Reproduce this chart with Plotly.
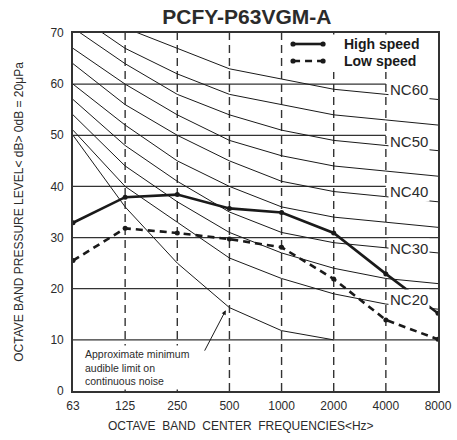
import plotly.graph_objects as go

# ---- data ----
freqs = ["63", "125", "250", "500", "1000", "2000", "4000", "8000"]

high_speed = [32.9, 37.9, 38.4, 35.7, 34.9, 30.9, 22.9, 15.2]
low_speed = [25.5, 31.8, 30.9, 29.7, 28.1, 21.9, 13.9, 10.1]

nc20 = [51, 40, 33, 26, 22, 19, 17, 16]
nc25 = [54, 44, 37, 31, 27, 24, 22, 21]
nc30 = [57, 48, 41, 35, 31, 29, 28, 27]
nc35 = [60, 52, 45, 40, 36, 34, 33, 32]
nc40 = [64, 56, 50, 45, 41, 39, 38, 37]
nc45 = [67, 60, 54, 49, 46, 44, 43, 42]
nc50 = [71, 64, 58, 54, 51, 49, 48, 47]
nc55 = [74, 67, 62, 58, 56, 54, 53, 52]
nc60 = [77, 71, 67, 63, 61, 59, 58, 57]
nc_curves = [nc20, nc25, nc30, nc35, nc40, nc45, nc50, nc55, nc60]

audible_freqs = ["63", "125", "250", "500", "1000", "2000"]
audible_limit = [50, 36, 25, 16.3, 11.8, 10]

nc_label_text = ["NC60", "NC50", "NC40", "NC30", "NC20"]
nc_label_y = [58.9, 48.8, 39.1, 27.9, 17.8]

y_ticks = [0, 10, 20, 30, 40, 50, 60, 70]
grid_full = [10, 20, 30]
grid_short = [40, 50, 60]
vgrid = ["125", "250", "500", "1000", "2000", "4000"]

legend_names = ["High speed", "Low speed"]

INK = "#1a1a1a"
TXT = "#2b2b2b"
FONT = "Arial, Liberation Sans, sans-serif"

W, H = 464, 440
ML, MR, MT, MB = 73, 20, 33, 49
PW, PH = W - ML - MR, H - MT - MB
SX = 0.9836  # observed horizontal scale of the snapshot


def fx(xs):  # snapshot x -> figure x
    return (xs - 1.2) / SX


def px(xs):  # snapshot x -> paper x
    return (fx(xs) - ML) / PW


def py(ys):  # snapshot y -> paper y
    return 1 - (ys - MT) / PH


fig = go.Figure()

for c in nc_curves:
    fig.add_trace(go.Scatter(x=freqs, y=c, mode="lines", showlegend=False,
                             line=dict(color=INK, width=1), hoverinfo="skip"))

fig.add_trace(go.Scatter(x=audible_freqs, y=audible_limit, mode="lines", showlegend=False,
                         line=dict(color=INK, width=1), hoverinfo="skip"))

fig.add_trace(go.Scatter(x=freqs, y=high_speed, mode="lines+markers", name=legend_names[0],
                         showlegend=False,
                         line=dict(color=INK, width=2.6),
                         marker=dict(color=INK, size=5)))
fig.add_trace(go.Scatter(x=freqs, y=low_speed, mode="lines+markers", name=legend_names[1],
                         showlegend=False,
                         line=dict(color=INK, width=2.6, dash="7px,5px"),
                         marker=dict(color=INK, size=5)))

# grid
for g in grid_full:
    fig.add_shape(type="line", xref="x", yref="y", x0=0, x1=7, y0=g, y1=g,
                  line=dict(color="#333", width=1.3), layer="below")
for g in grid_short:
    fig.add_shape(type="line", xref="x", yref="y", x0=0, x1=6, y0=g, y1=g,
                  line=dict(color="#333", width=1.3), layer="below")
for f in vgrid:
    i = freqs.index(f)
    fig.add_shape(type="line", xref="x", yref="y", x0=i, x1=i, y0=0, y1=70,
                  line=dict(color="#333", width=1.4, dash="8px,5px"), layer="below")

# legend (drawn like the reference: line with dots at both ends)
fig.add_shape(type="rect", xref="paper", yref="paper",
              x0=px(290), x1=px(436), y0=py(72), y1=py(34.5),
              fillcolor="white", line=dict(width=0), layer="above")
leg_y = [44, 61]
leg_dash = ["solid", "7px,5px"]
for name, ys, d in zip(legend_names, leg_y, leg_dash):
    fig.add_shape(type="line", xref="paper", yref="paper",
                  x0=px(293), x1=px(323), y0=py(ys), y1=py(ys),
                  line=dict(color=INK, width=2.6, dash=d), layer="above")
    for xe in (293, 323):
        fig.add_shape(type="circle", xref="paper", yref="paper",
                      xsizemode="pixel", ysizemode="pixel",
                      xanchor=px(xe), yanchor=py(ys),
                      x0=-2.6, x1=2.6, y0=-2.6, y1=2.6,
                      fillcolor=INK, line=dict(width=0), layer="above")
    fig.add_annotation(x=px(342), y=py(ys), xref="paper", yref="paper",
                       text=f"<b>{name}</b>", showarrow=False,
                       xanchor="left", yanchor="middle",
                       font=dict(family=FONT, size=14, color=INK))

# NC labels
for t, yv in zip(nc_label_text, nc_label_y):
    fig.add_annotation(x=6, y=yv, xref="x", yref="y", text=t, showarrow=False,
                       xanchor="left", yanchor="middle", xshift=2,
                       font=dict(family=FONT, size=15, color=TXT),
                       bgcolor="white", borderpad=1)

# audible-limit note
fig.add_annotation(x=0.17, y=4.6, xref="x", yref="y",
                   text="Approximate minimum<br>audible limit on<br>continuous noise",
                   showarrow=False, xanchor="left", yanchor="middle", align="left",
                   font=dict(family=FONT, size=10.5, color=TXT),
                   bgcolor="white", borderpad=2)
fig.add_annotation(x=2.93, y=15.8, xref="x", yref="y", ax=2.51, ay=7.6,
                   axref="x", ayref="y", text="", showarrow=True,
                   arrowhead=2, arrowsize=0.9, arrowwidth=1, arrowcolor=INK)

# x-axis title
fig.add_annotation(x=px(241), y=py(426), xref="paper", yref="paper",
                   text="OCTAVE\u00a0 BAND\u00a0 CENTER\u00a0 FREQUENCIES&lt;Hz&gt;",
                   showarrow=False, xanchor="center", yanchor="middle",
                   font=dict(family=FONT, size=12, color=TXT))

fig.update_layout(
    width=W, height=H,
    margin=dict(l=ML, r=MR, t=MT, b=MB),
    paper_bgcolor="white", plot_bgcolor="white",
    font=dict(family=FONT, size=12, color=TXT),
    title=dict(text="<b>PCFY-P63VGM-A</b>", x=fx(244) / W, xref="container",
               xanchor="center", y=1 - 17 / H, yref="container", yanchor="middle",
               font=dict(family=FONT, size=21, color=TXT)),
    xaxis=dict(type="category", categoryorder="array", categoryarray=freqs,
               range=[0, 7], showgrid=False, zeroline=False,
               showline=True, mirror=True, linecolor="#333", linewidth=1.6,
               ticks="", ticklabelstandoff=3, tickfont=dict(size=12, color=TXT)),
    yaxis=dict(range=[0, 70], tickvals=y_ticks, showgrid=False, zeroline=False,
               showline=True, mirror=True, linecolor="#333", linewidth=1.6,
               ticks="", ticklabelstandoff=5, tickfont=dict(size=12, color=TXT),
               title=dict(text="OCTAVE BAND PRESSURE LEVEL&lt; dB&gt; 0dB = 20μPa",
                          standoff=24, font=dict(family=FONT, size=12, color=TXT))),
    showlegend=False,
)

fig.write_html("out.html", config={"displayModeBar": False},
               post_script="document.body.style.margin='0';")
